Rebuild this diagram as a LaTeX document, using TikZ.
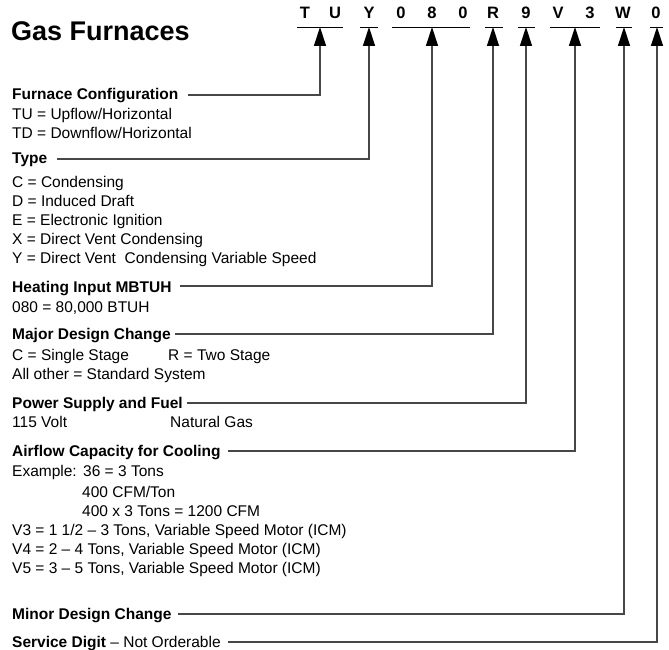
\documentclass[tikz,border=0pt]{standalone}
\usepackage{fontspec}
\setmainfont{Liberation Sans}
\usetikzlibrary{arrows.meta}
\tikzset{
  txt/.style={anchor=base west, inner sep=0pt, font=\fontsize{15.5}{19.3}\selectfont},
  hdr/.style={txt, font=\fontsize{15.5}{19.3}\selectfont\bfseries},
  code/.style={anchor=base, inner sep=0pt, font=\fontsize{16.5}{18}\selectfont\bfseries},
  uline/.style={draw=black, line width=0.9pt},
  conn/.style={draw=black!72, line width=1.3pt, -{Triangle[length=19pt,width=12pt,color=black]}},
}
\begin{document}
\begin{tikzpicture}[x=1pt,y=-1pt]
\useasboundingbox (0,0) rectangle (669,650);
% title
\node[anchor=base west, inner sep=0pt, font=\fontsize{27}{30}\selectfont\bfseries] (title) at (11,41) {Gas Furnaces};
% code letters
\foreach \n/\c/\x in {c1/T/305, c2/U/335, c3/Y/369, c4/0/401, c5/8/432, c6/0/463, c7/R/493, c8/9/526, c9/V/558, c10/3/590, c11/W/623, c12/0/656}
  \node[code] (\n) at (\x,19) {\c};
% underlines
\draw[uline] (297,27) -- (343,27);
\draw[uline] (360,27) -- (378,27);
\draw[uline] (392,27) -- (470,27);
\draw[uline] (485,27) -- (503,27);
\draw[uline] (518,27) -- (535,27);
\draw[uline] (550,27) -- (600,27);
\draw[uline] (616,27) -- (632,27);
\draw[uline] (650,27) -- (663,27);
% arrow targets
\coordinate (gTU) at (320,27);
\coordinate (gY) at (369,27);
\coordinate (g080) at (432,27);
\coordinate (gR) at (493,27);
\coordinate (g9) at (526,27);
\coordinate (gV3) at (575,27);
\coordinate (gW) at (624,27);
\coordinate (g0) at (657,27);
% headers
\node[hdr] (hFC) at (12,100) {Furnace Configuration};
\node[hdr] (hT) at (12,164) {Type};
\node[hdr] (hH) at (12,292) {Heating Input MBTUH};
\node[hdr] (hM) at (12,339) {Major Design Change};
\node[hdr] (hP) at (12,408) {Power Supply and Fuel};
\node[hdr] (hA) at (12,456) {Airflow Capacity for Cooling};
\node[hdr] (hMi) at (12,619) {Minor Design Change};
\node[txt] (hS) at (12,647) {\textbf{Service Digit} -- Not Orderable};
% body lines
\node[txt] (fc1) at (12,120) {TU = Upflow/Horizontal};
\node[txt] (fc2) at (12,138.5) {TD = Downflow/Horizontal};
\node[txt] (t1) at (12,187) {C = Condensing};
\node[txt] (t2) at (12,206.2) {D = Induced Draft};
\node[txt] (t3) at (12,225.4) {E = Electronic Ignition};
\node[txt] (t4) at (12,244.6) {X = Direct Vent Condensing};
\node[txt] (t5) at (12,263.8) {Y = Direct Vent\ \ Condensing Variable Speed};
\node[txt] (h1) at (12,312) {080 = 80,000 BTUH};
\node[txt] (m1) at (12,360) {C = Single Stage};
\node[txt] (m2) at (168,360) {R = Two Stage};
\node[txt] (m3) at (12,379) {All other = Standard System};
\node[txt] (p1) at (12,427) {115 Volt};
\node[txt] (p2) at (170,427) {Natural Gas};
\node[txt] (a1) at (12,476) {Example:};
\node[txt] (a2) at (83,476) {36 = 3 Tons};
\node[txt] (a3) at (82,497) {400 CFM/Ton};
\node[txt] (a4) at (82,516) {400 x 3 Tons = 1200 CFM};
\node[txt] (a5) at (12,535) {V3 = 1 1/2 -- 3 Tons, Variable Speed Motor (ICM)};
\node[txt] (a6) at (12,554) {V4 = 2 -- 4 Tons, Variable Speed Motor (ICM)};
\node[txt] (a7) at (12,573) {V5 = 3 -- 5 Tons, Variable Speed Motor (ICM)};
% line starts
\coordinate (sFC) at (188,95);
\coordinate (sT) at (57,159);
\coordinate (sH) at (180,286);
\coordinate (sM) at (175,334);
\coordinate (sP) at (187,403);
\coordinate (sA) at (228,451);
\coordinate (sMi) at (178,614);
\coordinate (sS) at (228,642);
% connectors
\draw[conn] (sFC) -| (gTU);
\draw[conn] (sT) -| (gY);
\draw[conn] (sH) -| (g080);
\draw[conn] (sM) -| (gR);
\draw[conn] (sP) -| (g9);
\draw[conn] (sA) -| (gV3);
\draw[conn] (sMi) -| (gW);
\draw[conn] (sS) -| (g0);
\end{tikzpicture}
\end{document}
